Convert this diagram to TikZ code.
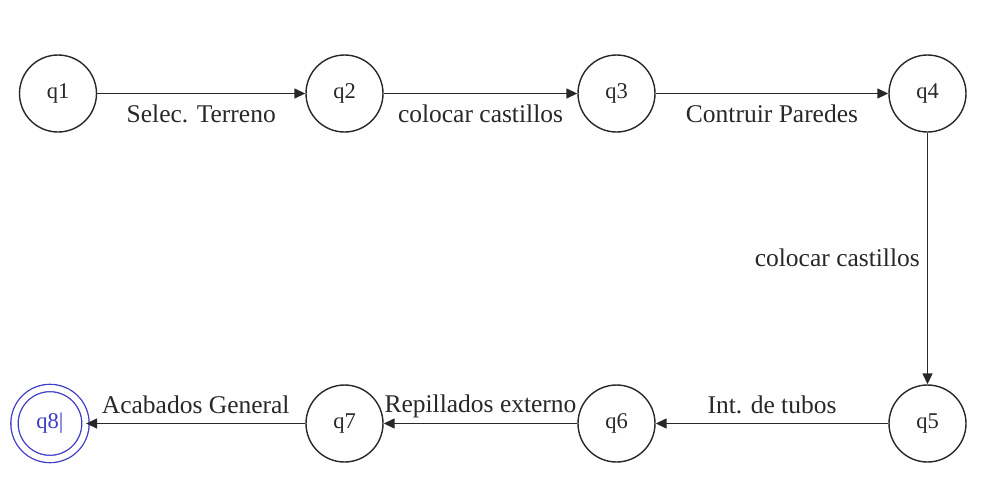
\documentclass[tikz,border=0pt]{standalone}
\usepackage{fontspec}
\setmainfont{Liberation Serif}
\usetikzlibrary{arrows.meta}
\definecolor{acc}{RGB}{60,60,200}
\definecolor{ink}{RGB}{40,40,40}
\tikzset{
  state/.style={circle, draw=ink, text=ink, line width=1.4pt, minimum size=77pt, inner sep=0pt, font=\fontsize{22.5}{26}\selectfont},
  accstate/.style={state, draw=acc, text=acc, double=white, double distance=6pt, line width=1.3pt, minimum size=71pt},
  trans/.style={draw=ink, line width=1.4pt, -{Triangle[length=11pt,width=10pt]}},
  lbl/.style={font=\fontsize{25.5}{28}\selectfont, text=ink, inner sep=0pt, anchor=base},
}
\begin{document}
\begin{tikzpicture}[x=1pt, y=-1pt]
\useasboundingbox (0,0) rectangle (994,498);
\node[state] (q1) at (58,93.5) {q1};
\node[state] (q2) at (344.5,93.5) {q2};
\node[state] (q3) at (616.5,93.5) {q3};
\node[state] (q4) at (927.5,93.5) {q4};
\node[state] (q5) at (927.5,423.5) {q5};
\node[state] (q6) at (616.5,423.5) {q6};
\node[state] (q7) at (344.5,423.5) {q7};
\node[accstate] (q8) at (50,423.5) {q8|};
\draw[trans] (q1) -- node[lbl, yshift=-29pt] {Selec. Terreno} (q2);
\draw[trans] (q2) -- node[lbl, yshift=-29pt] {colocar castillos} (q3);
\draw[trans] (q3) -- node[lbl, yshift=-29pt] {Contruir Paredes} (q4);
\draw[trans] (q4) -- node[lbl, anchor=base east, xshift=-7pt, yshift=-8pt] {colocar castillos} (q5);
\draw[trans] (q5) -- node[lbl, yshift=10pt] {Int. de tubos} (q6);
\draw[trans] (q6) -- node[lbl, yshift=11pt] {Repillados externo} (q7);
\draw[trans] (q7) -- node[lbl, yshift=10pt] {Acabados General} (q8);
\end{tikzpicture}
\end{document}
